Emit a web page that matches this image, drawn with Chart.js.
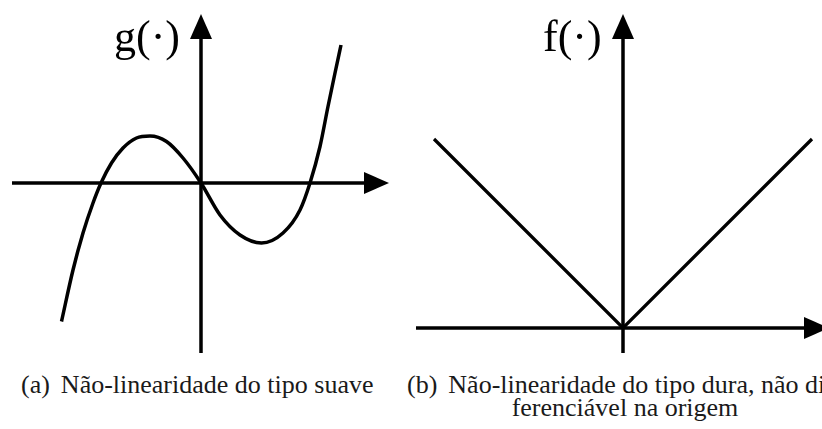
<!DOCTYPE html>
<html>
<head>
<meta charset="utf-8">
<script src="https://cdn.jsdelivr.net/npm/chart.js@4.4.1/dist/chart.umd.min.js"></script>
<style>
  html, body { margin: 0; padding: 0; background: #fff; }
  body { width: 822px; height: 429px; position: relative; overflow: hidden; }
  canvas { position: absolute; top: 0; }
  .lbl { position: absolute; font-family: "Liberation Serif", "DejaVu Serif", serif; color: #000; white-space: nowrap; }
  .fn { font-size: 44px; line-height: 44px; }
  .cap { font-size: 26px; line-height: 23px; color: #1a1a1a; }
  .gap { margin-left: 11px; }
</style>
</head>
<body>
<canvas id="smooth" width="411" height="360" style="left:0"></canvas>
<canvas id="hard" width="411" height="360" style="left:411px"></canvas>

<div class="lbl fn" style="left:114px; top:15px">g(·)</div>
<div class="lbl fn" style="left:543px; top:15px">f(·)</div>

<div class="lbl cap" style="left:21px; top:373px">(a)<span class="gap">Não-linearidade do tipo suave</span></div>
<div class="lbl cap" style="left:407px; top:373px">(b)<span class="gap">Não-linearidade do tipo dura, não diferenciável na origem</span></div>
<div class="lbl cap" style="left:411px; width:428px; top:396px; text-align:center">ferenciável na origem</div>

<script>
// g(x): smooth cubic-like curve, sampled points
const gX = [-139.5, -128, -118, -108, -100, -89.5, -78, -64.5, -51, -34.5, -18, 0, 19, 39, 60.5, 82, 99, 109, 119, 127, 134, 140];
const gY = [-138.5, -87, -50, -20, 0, 20, 35, 45, 47, 41.5, 25, 0, -32, -52, -60, -50, -27, 0, 36.5, 76.5, 110, 138];

// f(x) = |x| corner points
const fX = [-189, 0, 189];
const fY = [189, 0, 189];

// axis extents [start, end of shaft, arrow tip]
const smoothAxisX = [-189, 178, 188];
const smoothAxisY = [-170, 159, 169];
const hardAxisX = [-207, 196, 206];
const hardAxisY = [-25, 304, 314];

// arrowhead image; tip sits at the image centre so the point is the tip
function makeArrow(len, half) {
    const c = document.createElement('canvas');
    c.width = half * 2;
    c.height = len * 2;
    const g = c.getContext('2d');
    g.fillStyle = '#000';
    g.beginPath();
    g.moveTo(half, len);
    g.lineTo(half * 2, len * 2);
    g.lineTo(0, len * 2);
    g.closePath();
    g.fill();
    return c;
}
const arrow = makeArrow(25, 11);

function pairs(xs, ys) {
    return xs.map((x, i) => ({x: x, y: ys[i]}));
}

function axisSets(ax, ay) {
    return [{
        data: [{x: ax[0], y: 0}, {x: ax[1], y: 0}],
        showLine: true, borderColor: '#000', borderWidth: 3.5, pointRadius: 0
    }, {
        data: [{x: 0, y: ay[0]}, {x: 0, y: ay[1]}],
        showLine: true, borderColor: '#000', borderWidth: 3.5, pointRadius: 0
    }, {
        data: [{x: ax[2], y: 0}, {x: 0, y: ay[2]}],
        showLine: false, pointStyle: arrow, pointRadius: 14,
        pointRotation: [90, 0], clip: false
    }];
}

function makeChart(id, curve, curveOpts, xr, yr, ax, ay) {
    const ctx = document.getElementById(id).getContext('2d');
    return new Chart(ctx, {
        type: 'scatter',
        data: {
            datasets: axisSets(ax, ay).concat([Object.assign({
                data: curve, showLine: true, borderColor: '#000', borderWidth: 3.5,
                pointRadius: 0, fill: false
            }, curveOpts)])
        },
        options: {
            responsive: false, animation: false, devicePixelRatio: 1,
            layout: {padding: 0, autoPadding: false},
            plugins: {legend: {display: false}, tooltip: {enabled: false}},
            events: [],
            scales: {
                x: {type: 'linear', min: xr[0], max: xr[1], display: false},
                y: {type: 'linear', min: yr[0], max: yr[1], display: false}
            }
        }
    });
}

makeChart('smooth', pairs(gX, gY), {cubicInterpolationMode: 'monotone'},
    [-201, 210], [-177, 183], smoothAxisX, smoothAxisY);
makeChart('hard', pairs(fX, fY), {tension: 0, borderWidth: 3.2},
    [-212, 199], [-32, 328], hardAxisX, hardAxisY);
</script>
</body>
</html>
